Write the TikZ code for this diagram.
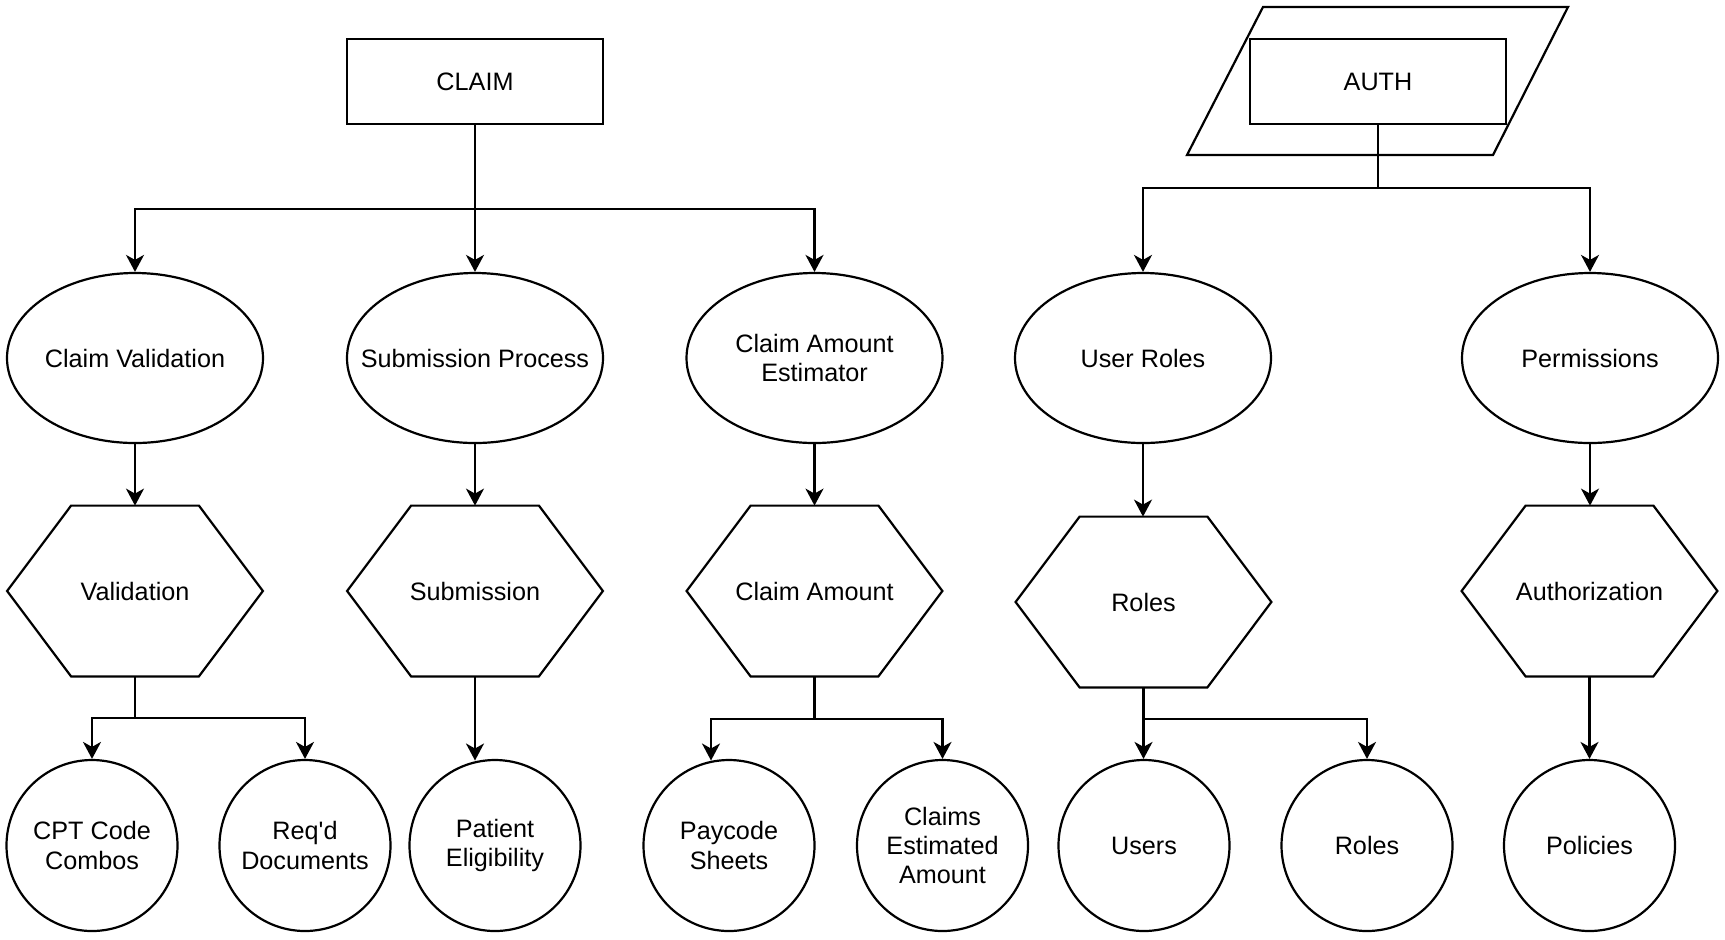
\documentclass[tikz,border=0pt]{standalone}
\usepackage{fontspec}
\setmainfont{Liberation Sans}
\usetikzlibrary{shapes.geometric,arrows.meta,calc}
\begin{document}
\begin{tikzpicture}[x=0.5pt,y=-0.5pt,
  line/.style={draw=black, line width=1.1pt},
  arr/.style={line, -{Stealth[length=8.5pt,width=9pt,inset=2.5pt]}},
  lbl/.style={font=\fontsize{12.6}{14.7}\selectfont, align=center, text=black},
  box/.style={line, lbl, rectangle, fill=white, minimum width=128pt, minimum height=42.5pt, inner sep=0pt},
  oval/.style={line, lbl, ellipse, minimum width=128pt, minimum height=85pt, inner xsep=-40pt, inner ysep=0pt},
  hexa/.style={lbl, rectangle, minimum width=127.5pt, minimum height=85pt, inner sep=0pt},
  leaf/.style={line, lbl, circle, minimum size=85.5pt, inner sep=0pt},
]
\useasboundingbox[fill=white] (0,0) rectangle (1725,939);

% parallelogram behind AUTH
\coordinate (p1) at (1263,7);
\coordinate (p2) at (1568,7);
\coordinate (p3) at (1493,155);
\coordinate (p4) at (1187,155);
\draw[line] (p1) -- (p2) -- (p3) -- (p4) -- cycle;

% top boxes
\node[box] (claim) at (475,81.5) {CLAIM};
\node[box] (auth) at (1378,81.5) {AUTH};

% level 1
\node[oval] (cv)   at (135,358)   {Claim Validation};
\node[oval] (sp)   at (475,358)   {Submission Process};
\node[oval] (cae)  at (814.5,358) {Claim Amount\\Estimator};
\node[oval] (ur)   at (1143,358)  {User Roles};
\node[oval] (perm) at (1590,358)  {Permissions};

% level 2 (hexagons)
\node[hexa] (val)  at (135,591)    {Validation};
\node[hexa] (sub)  at (475,591)    {Submission};
\node[hexa] (ca)   at (814.5,591)  {Claim Amount};
\node[hexa] (rh)   at (1143.5,602) {Roles};
\node[hexa] (az)   at (1589.5,591) {Authorization};
\foreach \h in {val,sub,ca,rh,az}{
  \draw[line] (\h.west) -- ([xshift=32pt]\h.north west) -- ([xshift=-32pt]\h.north east)
    -- (\h.east) -- ([xshift=-32pt]\h.south east) -- ([xshift=32pt]\h.south west) -- cycle;
}

% level 3
\node[leaf] (cpt)   at (92,845.5)     {CPT Code\\Combos};
\node[leaf] (req)   at (305,845.5)    {Req\textquotesingle d\\Documents};
\node[leaf] (pat)   at (495,845.5)    {Patient\\Eligibility};
\node[leaf] (pay)   at (729,845.5)    {Paycode\\Sheets};
\node[leaf] (cea)   at (942.5,845.5)  {Claims\\Estimated\\Amount};
\node[leaf] (users) at (1144,845.5)   {Users};
\node[leaf] (rc)    at (1367,845.5)   {Roles};
\node[leaf] (pol)   at (1589.5,845.5) {Policies};

% junctions
\coordinate (cj) at (475,209);
\coordinate (aj) at (1378,188);
\coordinate (vj) at (135,718);
\coordinate (caj) at (814.5,719);
\coordinate (rj) at (1143.5,719);

% CLAIM branch
\draw[arr] (claim.south) -- (sp.north);
\draw[arr] (cj) -| (cv.north);
\draw[arr] (cj) -| (cae.north);

% AUTH branch
\draw[line] (auth.south) -- (aj);
\draw[arr] (aj) -| (ur.north);
\draw[arr] (aj) -| (perm.north);

% level 1 -> level 2
\draw[arr] (cv.south) -- (val.north);
\draw[arr] (sp.south) -- (sub.north);
\draw[arr] (cae.south) -- (ca.north);
\draw[arr] (ur.south) -- (ur.south |- rh.north);
\draw[arr] (perm.south) -- (perm.south |- az.north);

% level 2 -> level 3
\draw[line] (val.south) -- (vj);
\draw[arr] (vj) -| (cpt.north);
\draw[arr] (vj) -| (req.north);

\draw[arr] (sub.south) -- ([yshift=-0.8pt]sub.south |- pat.north);

\draw[line] (ca.south) -- (caj);
\draw[arr] (caj) -| ([xshift=-9pt,yshift=-0.8pt]pay.north);
\draw[arr] (caj) -| (cea.north);

\draw[arr] (rh.south) -- (rh.south |- users.north);
\draw[arr] (rj) -| (rc.north);

\draw[arr] (az.south) -- (az.south |- pol.north);
\end{tikzpicture}
\end{document}
